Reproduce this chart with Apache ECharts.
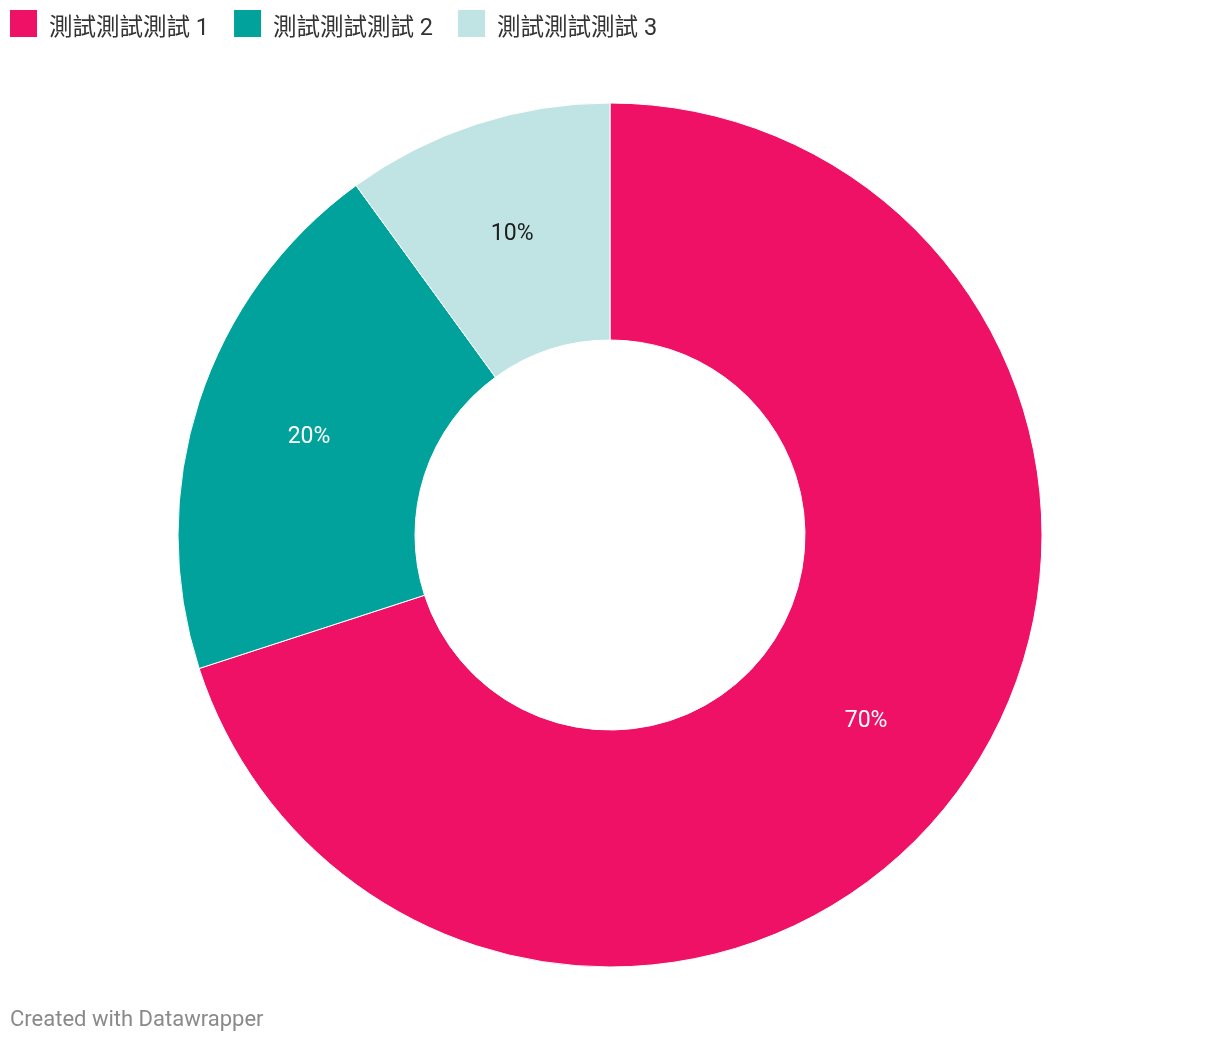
<!DOCTYPE html>
<html>
<head>
<meta charset="utf-8">
<script src="https://cdn.jsdelivr.net/npm/echarts@6/dist/echarts.min.js"></script>
<style>
html,body{margin:0;padding:0;background:#fff;}
#c{width:1220px;height:1044px;}
</style>
</head>
<body>
<div id="c"></div>
<script>
const categories = ['測試測試測試 1', '測試測試測試 2', '測試測試測試 3'];
const values = [70, 20, 10];
const colors = ['#ee1166', '#00a29b', '#bfe4e3'];
const labelColors = ['#ffffff', '#ffffff', '#1d1d1d'];
const footer = 'Created with Datawrapper';

const FONT = 'Roboto, "Noto Sans CJK TC", sans-serif';
const LEGEND_FONT = '23.5px ' + FONT;

// Legend built from categories/colors
const ctx = document.createElement('canvas').getContext('2d');
ctx.font = LEGEND_FONT;
const legendEls = [];
let lx = 10;
categories.forEach((name, i) => {
  legendEls.push({
    type: 'rect', x: lx, y: 10, silent: true,
    shape: {x: 0, y: 0, width: 27, height: 27},
    style: {fill: colors[i]}
  });
  const tx = lx + 39;
  legendEls.push({
    type: 'text', x: tx, y: 29, silent: true,
    style: {text: name, font: LEGEND_FONT, fill: '#333333', verticalAlign: 'middle', align: 'left'}
  });
  lx = tx + ctx.measureText(name).width + 25;
});

const chart = echarts.init(document.getElementById('c'), null, {renderer: 'canvas'});
chart.setOption({
  animation: false,
  backgroundColor: '#ffffff',
  graphic: legendEls.concat([{
    type: 'text', left: 10, top: 1009,
    style: {text: footer, fontFamily: FONT, fontSize: 22, fill: '#8a8a8a'}
  }]),
  series: [{
    type: 'pie',
    center: [610, 535],
    radius: [195, 432],
    startAngle: 90,
    clockwise: true,
    avoidLabelOverlap: false,
    label: {
      show: true, position: 'inside',
      fontFamily: FONT, fontSize: 23,
      formatter: p => p.value + '%'
    },
    labelLine: {show: false},
    itemStyle: {borderColor: '#ffffff', borderWidth: 1},
    emphasis: {disabled: true},
    data: categories.map((n, i) => ({
      name: n, value: values[i],
      itemStyle: {color: colors[i]},
      label: {color: labelColors[i]}
    }))
  }]
});
</script>
</body>
</html>
